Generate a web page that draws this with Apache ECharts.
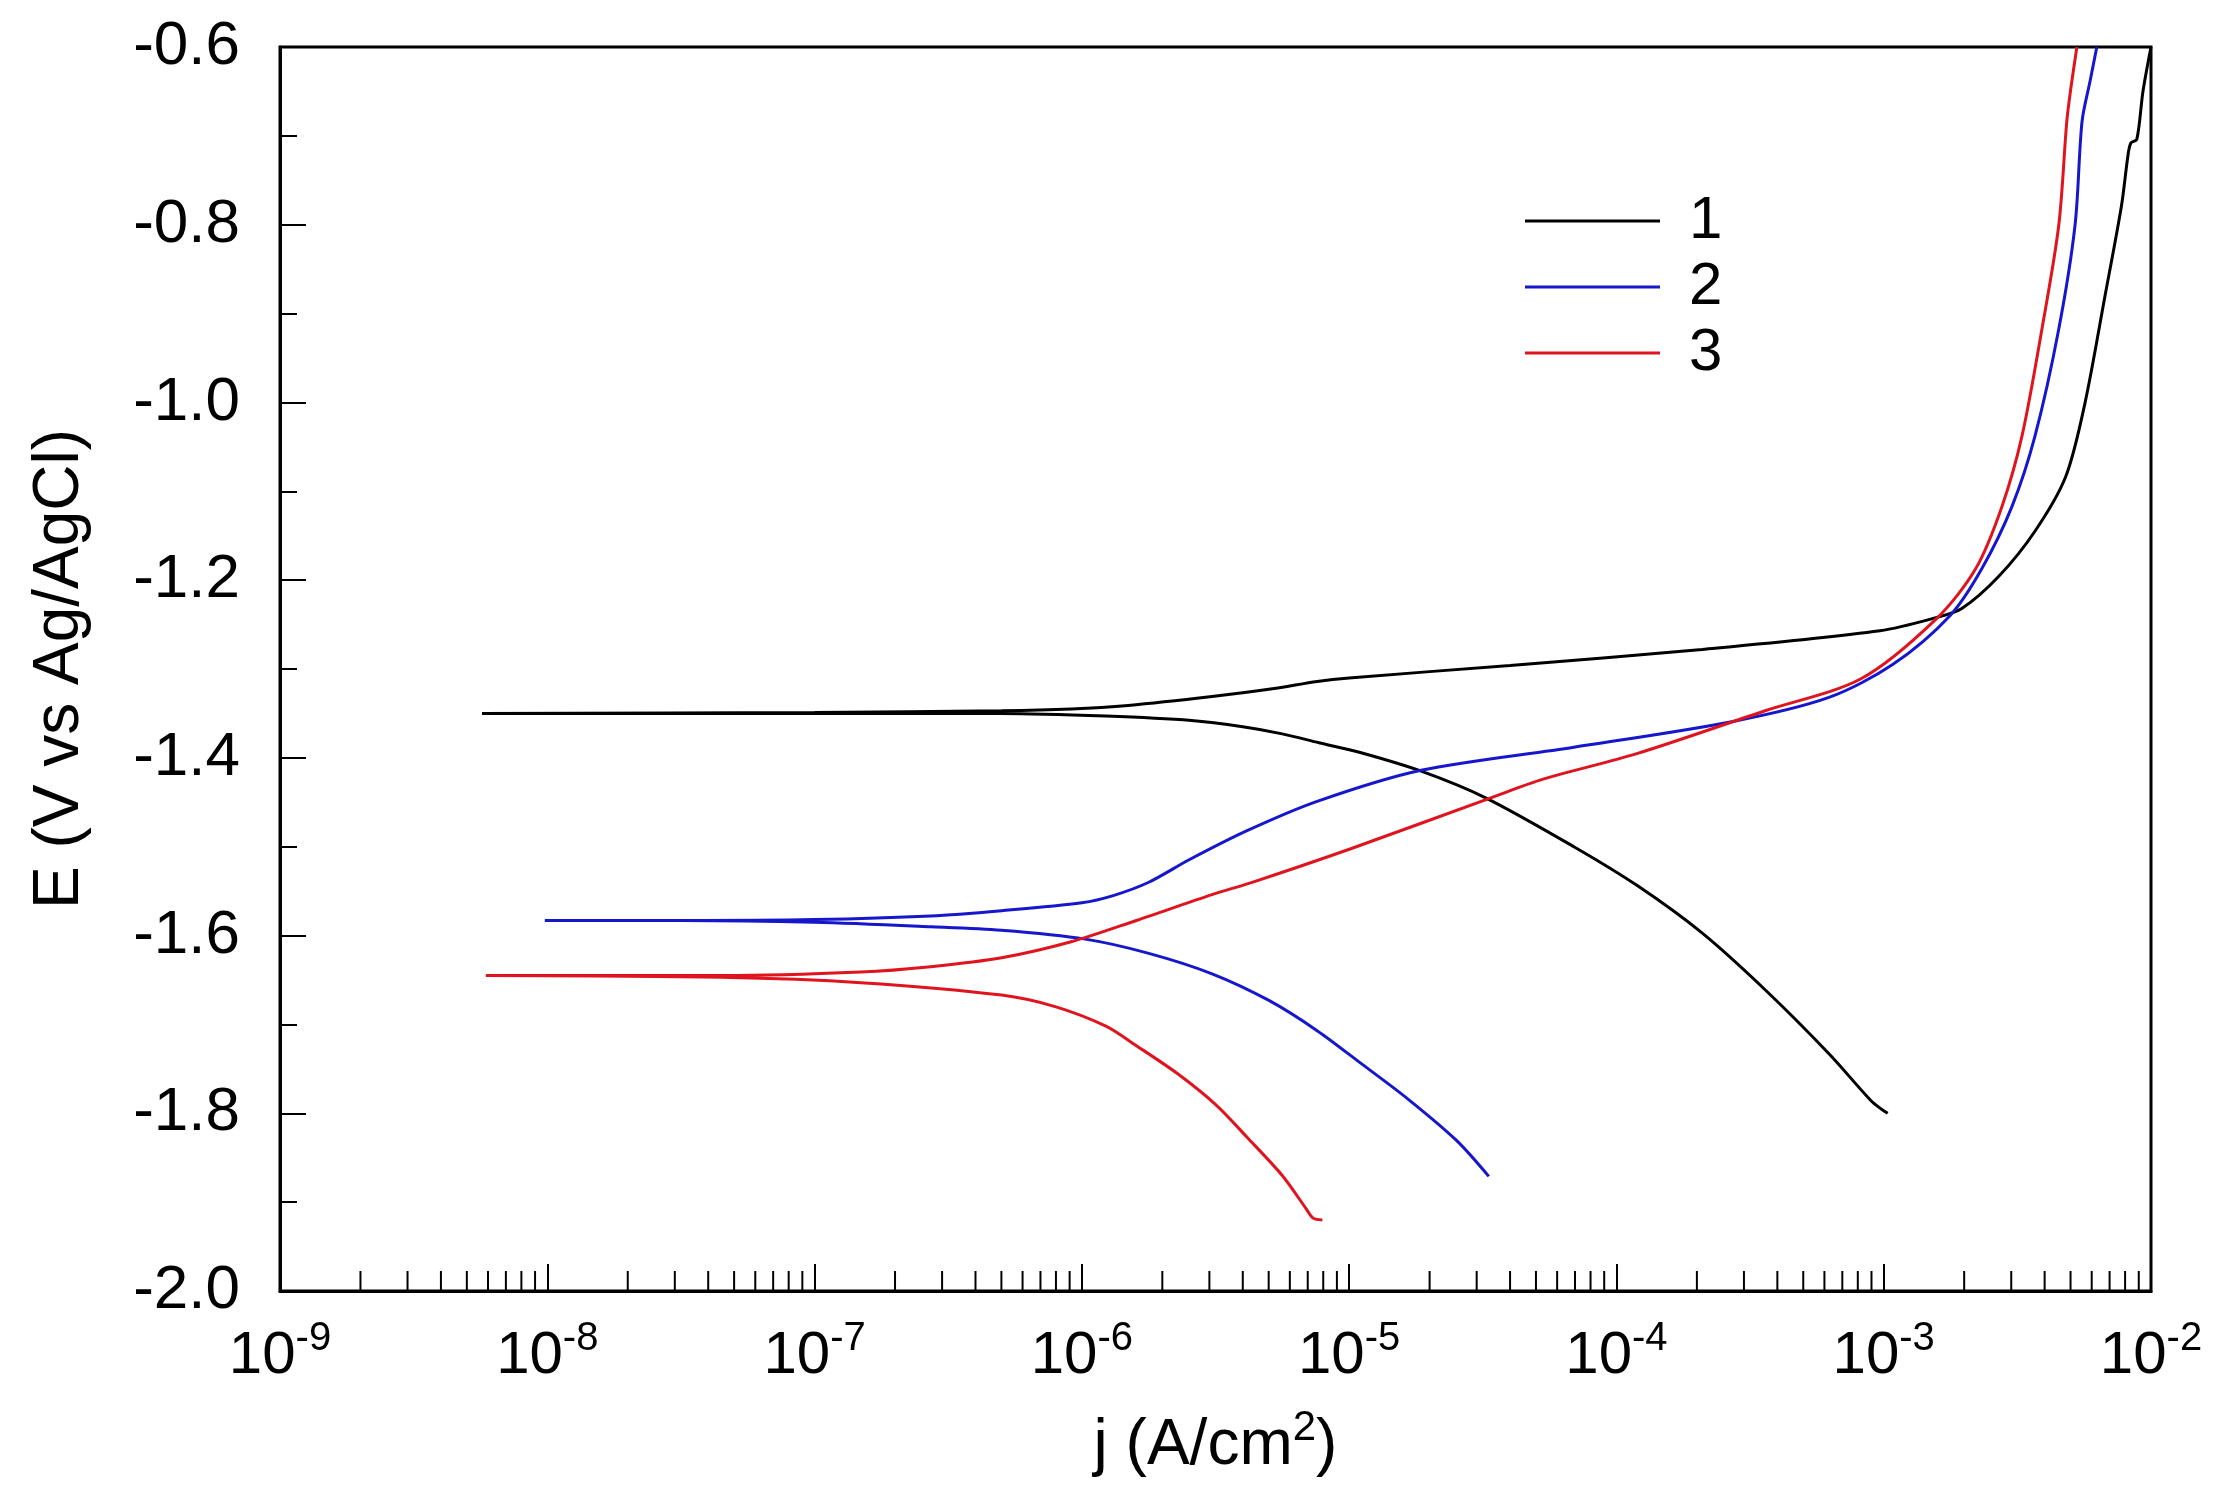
<!DOCTYPE html>
<html>
<head>
<meta charset="utf-8">
<script src="https://cdn.jsdelivr.net/npm/echarts@6/dist/echarts.min.js"></script>
<style>
  html, body { margin: 0; padding: 0; background: #fff; }
  #chart { width: 2229px; height: 1503px; }
</style>
</head>
<body>
<div id="chart"></div>
<script>
// curve 1 (black): cathodic end -> Ecorr tip -> anodic top
const curve1J = [1.035e-3, 9.77e-4, 8.91e-4, 6.24e-4, 3.60e-4, 2.09e-4, 1.20e-4, 6.93e-5, 3.24e-5, 1.86e-5,
  1.10e-5, 7.71e-6, 5.62e-6, 4.0e-6, 2.57e-6, 1.23e-6, 5.0e-7, 1.0e-7, 5.70e-9,
  1.0e-7, 5.0e-7, 9.12e-7, 1.49e-6, 3.07e-6, 5.24e-6, 7.59e-6, 1.0e-5, 4.0e-5, 2.09e-4, 9.68e-4,
  1.58e-3, 1.96e-3, 2.69e-3, 3.68e-3, 4.79e-3, 5.66e-3, 6.73e-3, 7.76e-3, 8.20e-3, 8.41e-3, 8.85e-3, 9.33e-3, 1.0e-2];
const curve1E = [-1.800, -1.795, -1.785, -1.733, -1.661, -1.597, -1.544, -1.500, -1.445, -1.415,
  -1.394, -1.383, -1.373, -1.365, -1.358, -1.353, -1.350, -1.350, -1.350,
  -1.349, -1.347, -1.345, -1.341, -1.331, -1.322, -1.314, -1.310, -1.296, -1.278, -1.257,
  -1.242, -1.232, -1.196, -1.145, -1.084, -1.001, -0.880, -0.778, -0.722, -0.708, -0.704, -0.650, -0.600];

// curve 2 (blue)
const curve2J = [3.33e-5, 2.51e-5, 1.66e-5, 1.12e-5, 7.59e-6, 5.01e-6, 3.07e-6, 1.78e-6, 1.03e-6, 5.0e-7,
  2.72e-7, 1.0e-7, 3.16e-8, 9.79e-9,
  3.16e-8, 1.0e-7, 2.72e-7, 5.01e-7, 1.0e-6, 1.31e-6, 1.78e-6, 2.51e-6, 4.15e-6, 7.59e-6, 1.86e-5, 6.93e-5,
  2.73e-4, 6.24e-4, 1.08e-3, 1.77e-3, 2.33e-3, 3.02e-3, 3.68e-3, 4.52e-3, 5.20e-3, 5.52e-3, 5.92e-3, 6.27e-3];
const curve2E = [-1.871, -1.830, -1.784, -1.745, -1.707, -1.673, -1.643, -1.620, -1.604, -1.594,
  -1.590, -1.585, -1.583, -1.583,
  -1.583, -1.582, -1.578, -1.572, -1.563, -1.555, -1.540, -1.515, -1.482, -1.449, -1.414, -1.388,
  -1.359, -1.332, -1.295, -1.240, -1.187, -1.117, -1.038, -0.917, -0.800, -0.684, -0.638, -0.600];

// curve 3 (red)
const curve3J = [7.94e-6, 7.33e-6, 6.89e-6, 5.62e-6, 4.15e-6, 3.16e-6, 2.27e-6, 1.60e-6, 1.23e-6, 7.94e-7, 5.01e-7,
  1.49e-7, 4.47e-8, 5.89e-9,
  4.47e-8, 1.49e-7, 2.72e-7, 5.01e-7, 9.12e-7, 1.60e-6, 3.07e-6, 4.45e-6, 1.02e-5, 3.39e-5, 5.18e-5, 1.20e-4,
  3.60e-4, 8.22e-4, 1.58e-3, 2.21e-3, 2.77e-3, 3.29e-3, 3.91e-3, 4.52e-3, 4.84e-3, 5.01e-3, 5.28e-3];
const curve3E = [-1.920, -1.918, -1.907, -1.870, -1.827, -1.790, -1.755, -1.724, -1.702, -1.680, -1.667,
  -1.653, -1.647, -1.645,
  -1.645, -1.641, -1.635, -1.625, -1.607, -1.583, -1.554, -1.539, -1.502, -1.445, -1.425, -1.395,
  -1.347, -1.311, -1.243, -1.187, -1.117, -1.038, -0.917, -0.800, -0.684, -0.647, -0.600];

const seriesNames = ['1', '2', '3'];
const seriesColors = ['#000000', '#1616cc', '#e0141e'];

// minor tick positions 2..9 within each decade
const minorTickJ = [];
for (let d = -9; d < -2; d++) {
  for (let k = 2; k <= 9; k++) {
    minorTickJ.push(Number((k * Math.pow(10, d)).toPrecision(3)));
  }
}

const FONT = 'Liberation Sans';
const zip = (xs, ys) => xs.map((x, i) => [x, ys[i]]);
const curves = [zip(curve1J, curve1E), zip(curve2J, curve2E), zip(curve3J, curve3E)];

const chart = echarts.init(document.getElementById('chart'));

const option = {
  animation: false,
  backgroundColor: '#ffffff',
  grid: {
    left: 280, right: 78, top: 47, bottom: 212,
    show: true, borderColor: '#000', borderWidth: 3, backgroundColor: 'transparent'
  },
  legend: {
    data: seriesNames,
    orient: 'vertical',
    left: 1520, top: 186,
    icon: 'rect',
    itemWidth: 135, itemHeight: 3,
    itemGap: 6,
    textStyle: { fontFamily: FONT, fontSize: 60, color: '#000', lineHeight: 60, padding: [0, 0, 0, 24] }
  },
  xAxis: {
    type: 'log',
    logBase: 10,
    min: 1e-9, max: 1e-2,
    interval: 1,
    axisLine: { lineStyle: { color: '#000', width: 3 } },
    axisTick: { inside: true, length: 27, lineStyle: { color: '#000', width: 2 } },
    splitLine: { show: false },
    axisLabel: {
      margin: 28,
      color: '#000',
      formatter: v => '{b|10}{s|' + Math.round(Math.log10(v)) + '}',
      rich: {
        b: { fontFamily: FONT, fontSize: 60, lineHeight: 74, color: '#000' },
        s: { fontFamily: FONT, fontSize: 40, verticalAlign: 'top', color: '#000' }
      }
    },
    name: '{n|j (A/cm}{s|2}{n|)}',
    nameLocation: 'middle',
    nameGap: 116,
    nameTextStyle: {
      rich: {
        n: { fontFamily: FONT, fontSize: 64, lineHeight: 78, color: '#000' },
        s: { fontFamily: FONT, fontSize: 42, verticalAlign: 'top', color: '#000' }
      }
    }
  },
  yAxis: {
    type: 'value',
    min: -2.0, max: -0.6,
    interval: 0.2,
    axisLine: { lineStyle: { color: '#000', width: 3 } },
    axisTick: { inside: true, length: 26, lineStyle: { color: '#000', width: 2 } },
    minorTick: { show: true, splitNumber: 2, length: 17, lineStyle: { color: '#000', width: 2 } },
    splitLine: { show: false },
    axisLabel: {
      margin: 40,
      color: '#000',
      fontFamily: FONT,
      fontSize: 62,
      formatter: v => v.toFixed(1)
    },
    name: 'E (V vs Ag/AgCl)',
    nameLocation: 'middle',
    nameGap: 188,
    nameTextStyle: { fontFamily: FONT, fontSize: 64, color: '#000' }
  },
  series: [
    ...curves.map((pts, i) => ({
      name: seriesNames[i],
      type: 'line',
      data: pts,
      showSymbol: false,
      symbol: 'none',
      smooth: 0.3,
      lineStyle: { color: seriesColors[i], width: 3 },
      itemStyle: { color: seriesColors[i] },
      z: 3
    })),
    {
      name: 'minorTicks',
      type: 'custom',
      silent: true,
      clip: false,
      data: minorTickJ.map(j => [j, -2.0]),
      renderItem: (params, api) => {
        const p = api.coord([api.value(0), api.value(1)]);
        return {
          type: 'line',
          shape: { x1: p[0], y1: p[1], x2: p[0], y2: p[1] - 20 },
          style: { stroke: '#000', lineWidth: 2 }
        };
      },
      z: 2
    }
  ]
};

chart.setOption(option);
</script>
</body>
</html>
